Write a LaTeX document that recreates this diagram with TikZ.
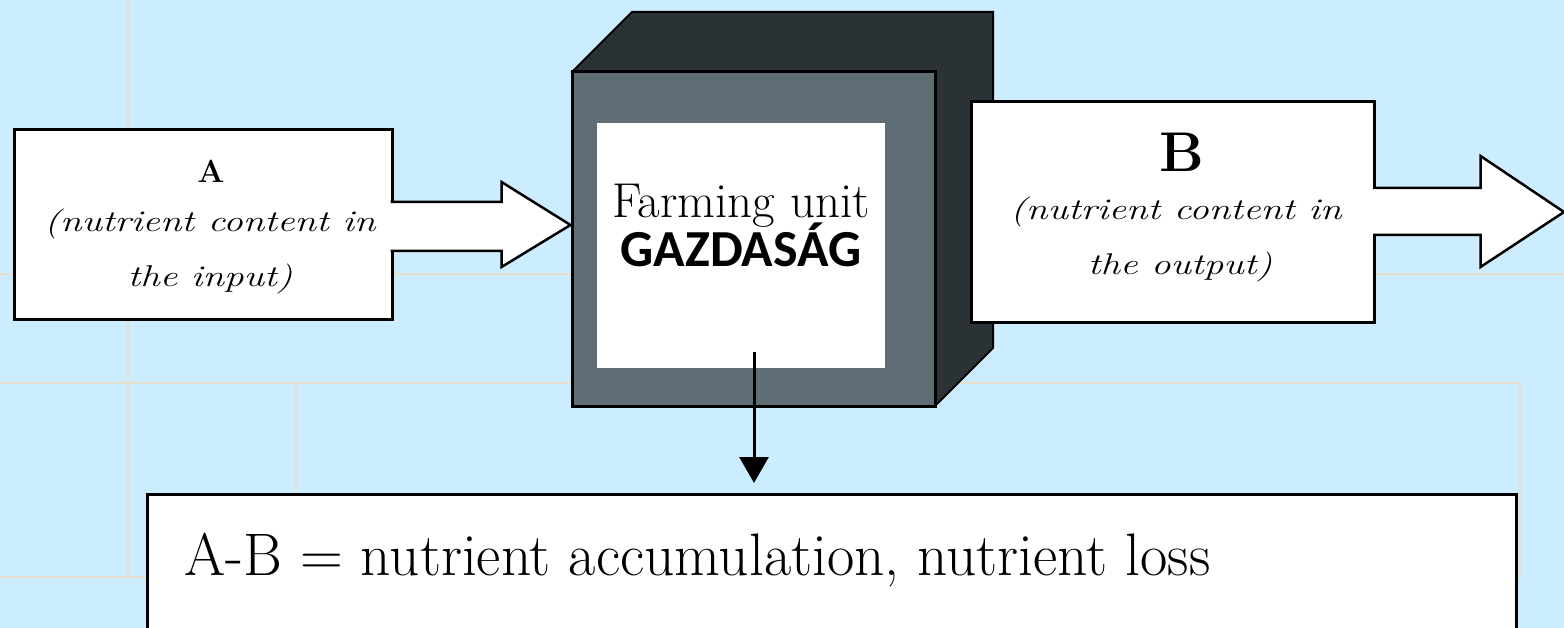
\documentclass[tikz,border=0pt]{standalone}
\usepackage{fontspec}
\usepackage{graphicx}
\newfontfamily\gazfont{Carlito}
\usetikzlibrary{arrows.meta,calc}
\definecolor{skyback}{HTML}{CCECFF}
\definecolor{guideline}{HTML}{E6E0CC}
\definecolor{cubefront}{HTML}{5F6D75}
\definecolor{cubeside}{HTML}{2B3235}
\newcommand\wideit[1]{{\fontsize{30}{33}\selectfont\itshape\scalebox{1.3}[1]{#1}}}
\begin{document}
\begin{tikzpicture}[x=1pt,y=-1pt,
    box/.style={draw,fill=white,line width=3pt,inner sep=0pt},
    blockarrow/.style={draw,fill=white,line width=2.5pt,line join=miter},
    guide/.style={guideline,line width=2pt},
    lbl/.style={inner sep=0pt,anchor=base}]
    \useasboundingbox (0,0) rectangle (1564,628);
    \clip (0,0) rectangle (1564,628);
    \fill[skyback] (0,0) rectangle (1564,628);
    % faint layout lines of the slide
    \draw[guide] (128,0)--(128,577) (0,274)--(1564,274)
        (0,383)--(1520,383)--(1520,577)--(0,577) (296,383)--(296,493);
    % input
    \node[box,minimum width=378pt,minimum height=190pt] (input) at (203,225) {};
    \node[lbl] (inhead) at (211,183) {\fontsize{32}{34}\selectfont\bfseries A};
    \node[lbl] (inline1) at (210,232) {\wideit{(nutrient content in}};
    \node[lbl] (inline2) at (210,287) {\wideit{the input)}};
    % cube
    \fill[cubeside,draw=black,line width=2pt] (572,72)--(632,12)--(993,12)--(993,348)--(935,406)--cycle;
    \node[draw,fill=cubefront,line width=3pt,inner sep=0pt,
        minimum width=363pt,minimum height=334pt] (front) at (753.5,239) {};
    \node[fill=white,inner sep=0pt,minimum width=288pt,minimum height=245pt] (window) at (741,245.5) {};
    \node[lbl] (farmlbl) at (741,218) {\fontsize{49}{52}\selectfont Farming unit};
    \node[lbl] (gazlbl) at (741,267) {\fontsize{52}{56}\selectfont\gazfont\bfseries GAZDASÁG};
    \draw[blockarrow] ($(input.east)+(-3,-23)$) -- ++(111,0) -- ++(0,-20)
        -- (front.west |- input.east) -- ($(input.east)+(108,42)$) -- ++(0,-16) -- ++(-111,0);
    % output
    \node[box,minimum width=403pt,minimum height=221pt] (output) at (1173,212) {};
    \node[lbl] (outhead) at (1182,172) {\fontsize{56}{60}\selectfont\bfseries B};
    \node[lbl] (outline1) at (1176,220) {\wideit{(nutrient content in}};
    \node[lbl] (outline2) at (1180,275) {\wideit{the output)}};
    \draw[blockarrow] ($(output.east)+(-3,-24)$) -- ++(107.5,0) -- ++(0,-32)
        -- ($(output.east)+(188,0)$) -- ($(output.east)+(104.5,55)$) -- ++(0,-32) -- ++(-107.5,0);
    % balance
    \node[box,minimum width=1369pt,minimum height=180pt,anchor=north west] (result) at (146,493) {};
    \node[lbl,anchor=base west] (balance) at (184,575)
        {\fontsize{60}{66}\selectfont\scalebox{0.99}[1]{A-B = nutrient accumulation, nutrient loss}};
    \coordinate (drop) at ($(window.south)+(13,-16)$);
    \draw[line width=3pt,-{Triangle[width=29pt,length=26pt]},shorten >=10pt] (drop) -- (drop |- result.north);
\end{tikzpicture}
\end{document}
